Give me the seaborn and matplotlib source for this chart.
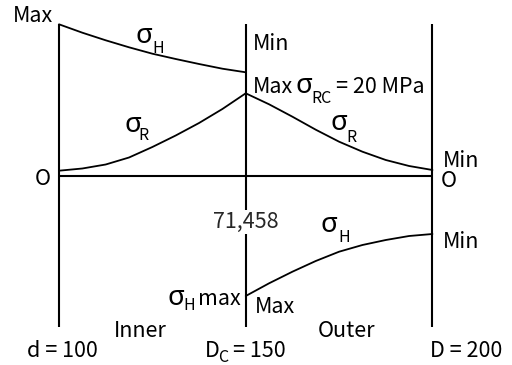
import matplotlib
matplotlib.use("Agg")
import matplotlib.pyplot as plt
import seaborn as sns
import pandas as pd

# ---- data (diameters in mm, stresses in relative schematic units) ----
d_inner = [100, 106.25, 112.5, 118.75, 125, 131.25, 137.5, 143.75, 150]
d_outer = [150, 156.25, 162.5, 168.75, 175, 181.25, 187.5, 193.75, 200]
sigma_h_inner = [151.4, 143.0, 135.4, 128.4, 122.0, 116.7, 111.7, 107.0, 103.4]
sigma_r_inner = [5.0, 7.2, 11.2, 18.2, 28.7, 40.2, 52.7, 66.7, 82.4]
sigma_r_outer = [82.4, 71.4, 59.0, 46.0, 34.0, 24.0, 15.7, 9.7, 5.7]
sigma_h_outer = [-120.3, -107.6, -96.0, -85.3, -76.0, -69.3, -64.3, -60.3, -58.3]
boundaries = [100, 150, 200]
line_top, line_bottom = 151.7, -151.3

sns.set_theme(style="white")
plt.rcParams["font.family"] = ["Noto Sans CJK SC", "DejaVu Sans"]

fig = plt.figure(figsize=(5.12, 3.65), dpi=100)
ax = fig.add_axes([0, 0, 1, 1])
ax.set_xlim(84.2, 221.3)
ax.set_ylim(-189.3, 175.7)
ax.axis("off")

# structure lines
ax.vlines(boundaries, line_bottom, line_top, color="black", lw=1.5, zorder=2)
ax.hlines(0, boundaries[0], boundaries[-1], color="black", lw=1.5, zorder=2)

# stress curves
for xs, ys in [(d_inner, sigma_h_inner), (d_inner, sigma_r_inner),
               (d_outer, sigma_r_outer), (d_outer, sigma_h_outer)]:
    df = pd.DataFrame({"d": xs, "s": ys})
    sns.lineplot(data=df, x="d", y="s", color="black", lw=1.3, ax=ax,
                 estimator=None, sort=False, zorder=3)
ax.set_xlabel("")
ax.set_ylabel("")

FS = 15.5
SIG = 20
SUB = 11.5
GREEK = ["Noto Sans", "DejaVu Sans"]

def t(x, y, s, size=FS, ha="left", **kw):
    ax.text(x, y, s, fontsize=size, ha=ha, va="baseline", color="black", **kw)

def sigma(x, y, sub, xs, ys):
    t(x, y, "σ", size=SIG, family=GREEK)
    t(xs, ys, sub, size=SUB)

t(98.39, 153.2, "Max", ha="right")
sigma(120.35, 132.7, "H", 124.9, 122.7)
t(151.94, 125.7, "Min")
t(151.94, 82.7, "Max")
sigma(163.45, 82.7, "RC", 167.47, 72.7)
t(174.16, 82.7, "= 20 MPa")
sigma(117.67, 43.7, "R", 121.15, 35.7)
sigma(172.82, 45.7, "R", 176.84, 33.7)
t(93.57, -9.3, "O")
t(202.28, -11.3, "O")
t(202.81, 8.7, "Min")
ax.text(150.07, -52.3, "71,458", fontsize=FS, ha="center", va="baseline",
        zorder=5, bbox=dict(facecolor="white", edgecolor="none", pad=1.0))
sigma(170.15, -56.3, "H", 174.70, -66.3)
t(202.81, -72.3, "Min")
sigma(129.18, -129.3, "H", 133.2, -134.3)
t(137.3, -129.3, "max")
t(152.48, -137.3, "Max")
t(121.69, -161.3, "Inner", ha="center")
t(177.1, -161.3, "Outer", ha="center")
t(100.8, -181.3, "d = 100", ha="center")
t(139.09, -181.3, "D")
t(142.57, -186.0, "C", size=SUB)
t(146.59, -181.3, "= 150")
t(199.33, -181.3, "D = 200")

fig.savefig("out.png", dpi=100)
